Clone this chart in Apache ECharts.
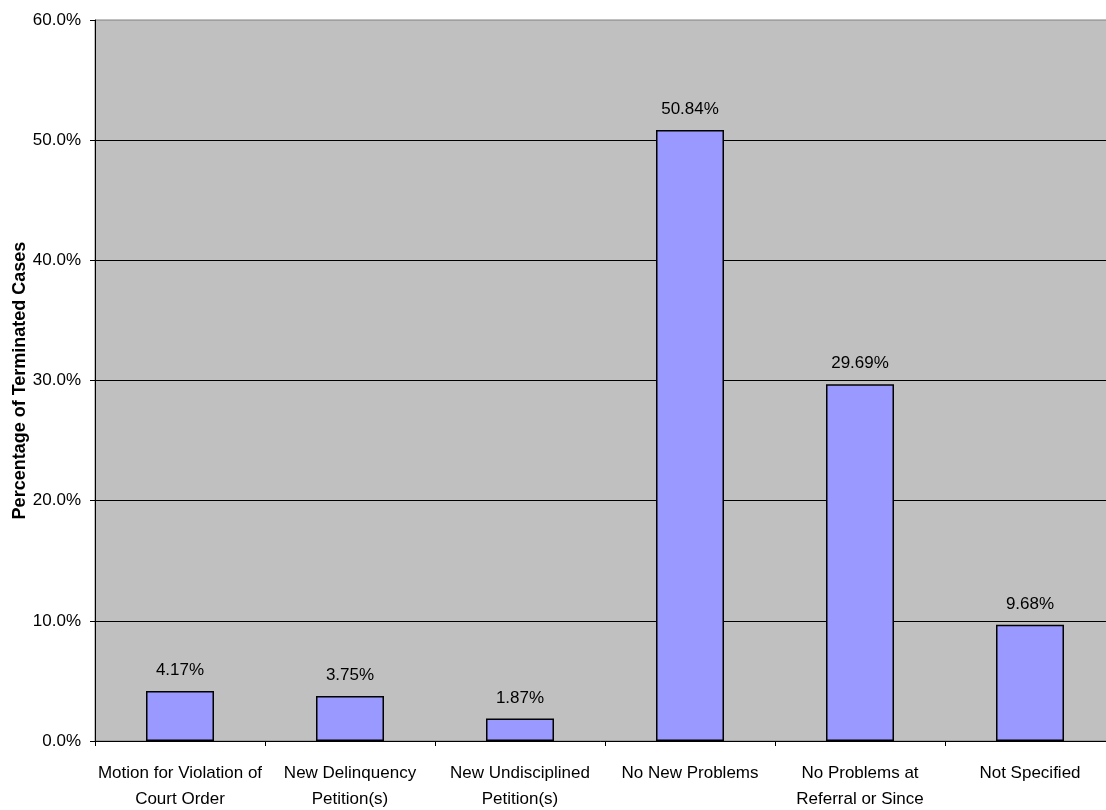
<!DOCTYPE html>
<html>
<head>
<meta charset="utf-8">
<script src="https://cdn.jsdelivr.net/npm/echarts@6/dist/echarts.min.js"></script>
<style>
  html, body { margin: 0; padding: 0; background: #ffffff; }
  #chart { width: 1106px; height: 810px; }
</style>
</head>
<body>
<div id="chart"></div>
<script>
// Outcome categories for terminated cases
const categories = [
  'Motion for Violation of\nCourt Order',
  'New Delinquency\nPetition(s)',
  'New Undisciplined\nPetition(s)',
  'No New Problems',
  'No Problems at\nReferral or Since',
  'Not Specified'
];
// Share of terminated cases, in percent
const percentages = [4.17, 3.75, 1.87, 50.84, 29.69, 9.68];
// Value-axis range and step
const yMin = 0;
const yMax = 60;
const yStep = 10;
const yTitle = 'Percentage of Terminated Cases';

const font = 'Liberation Sans, Arial, sans-serif';
const chart = echarts.init(document.getElementById('chart'), null, { renderer: 'canvas' });

chart.setOption({
  animation: false,
  backgroundColor: '#ffffff',
  grid: {
    left: 95,
    top: 20,
    width: 1020,
    height: 721,
    show: true,
    backgroundColor: '#c0c0c0',
    borderColor: '#808080',
    borderWidth: 1,
    containLabel: false,
    outerBoundsMode: 'none'
  },
  xAxis: {
    type: 'category',
    data: categories,
    axisLine: { show: true, lineStyle: { color: '#000000', width: 1 } },
    axisTick: { show: true, alignWithLabel: false, length: 5, lineStyle: { color: '#000000' } },
    axisLabel: {
      interval: 0,
      margin: 19,
      color: '#000000',
      fontFamily: font,
      fontSize: 17,
      lineHeight: 26
    },
    splitLine: { show: false }
  },
  yAxis: {
    type: 'value',
    min: yMin,
    max: yMax,
    interval: yStep,
    name: yTitle,
    nameLocation: 'middle',
    nameRotate: 90,
    nameGap: 66,
    nameMoveOverlap: false,
    nameTextStyle: {
      color: '#000000',
      fontFamily: font,
      fontSize: 18,
      fontWeight: 'bold'
    },
    axisLine: { show: true, lineStyle: { color: '#000000', width: 1 } },
    axisTick: { show: true, length: 5, lineStyle: { color: '#000000' } },
    axisLabel: {
      margin: 14,
      color: '#000000',
      fontFamily: font,
      fontSize: 17,
      formatter: v => v.toFixed(1) + '%'
    },
    splitLine: {
      show: true,
      showMinLine: false,
      showMaxLine: false,
      lineStyle: { color: '#000000', width: 1 }
    }
  },
  series: [{
    type: 'bar',
    data: percentages,
    barWidth: '40%',
    itemStyle: { color: '#9999ff', borderColor: '#000000', borderWidth: 1.5 },
    label: {
      show: true,
      position: 'top',
      distance: 12,
      color: '#000000',
      fontFamily: font,
      fontSize: 17,
      formatter: p => p.value.toFixed(2) + '%'
    }
  }]
});
</script>
</body>
</html>
